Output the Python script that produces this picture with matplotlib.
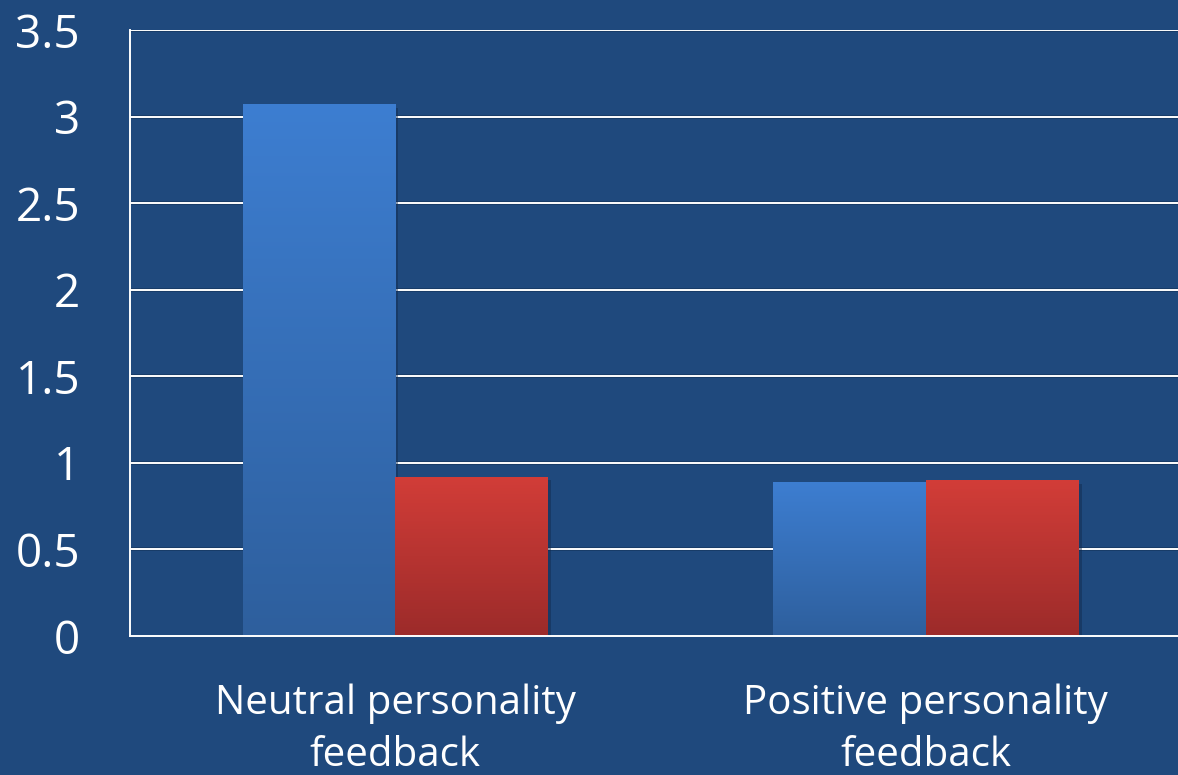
import numpy as np
import matplotlib
matplotlib.use("Agg")
import matplotlib.pyplot as plt
from matplotlib.colors import LinearSegmentedColormap

categories = ["Neutral personality\nfeedback", "Positive personality\nfeedback"]
series_blue = [3.07, 0.89]
series_red = [0.92, 0.90]
yticks = [0, 0.5, 1, 1.5, 2, 2.5, 3, 3.5]
ytick_labels = ["0", "0.5", "1", "1.5", "2", "2.5", "3", "3.5"]

BG = "#1F497D"
W, H = 1178, 775
fig = plt.figure(figsize=(W / 100, H / 100), dpi=100, facecolor=BG)
# axes spans x 130..1191 px (right edge cropped), y 30..636 px
ax = fig.add_axes([130 / W, 1 - 636 / H, (1191 - 130) / W, (636 - 30) / H])
ax.set_facecolor(BG)
ax.set_xlim(-0.5, 1.5)
ax.set_ylim(0, 3.5)

x = np.arange(len(categories))
bw = 0.2877

for yv in yticks[1:]:
    ax.axhline(yv, color="#0F2A4A", lw=2.6, alpha=0.5, zorder=1)
    ax.axhline(yv, color="white", lw=1.4, zorder=1.1)

blue_cmap = LinearSegmentedColormap.from_list("b", ["#2E5F9D", "#3D7ED1"])
red_cmap = LinearSegmentedColormap.from_list("r", ["#9C2B2A", "#D23D38"])

def grad_bars(xs, vals, cmap):
    bars = ax.bar(xs, vals, width=bw, color="none", edgecolor="none", zorder=3)
    for b in bars:
        x0, y0 = b.get_x(), b.get_y()
        w, h = b.get_width(), b.get_height()
        sh = plt.Rectangle((x0 + 0.006, y0 - 0.02), w, h, color="#10284A", alpha=0.45, zorder=2, lw=0)
        ax.add_patch(sh)
        grad = np.linspace(0, 1, 256).reshape(-1, 1)
        im = ax.imshow(grad, cmap=cmap, aspect="auto", origin="lower",
                       extent=[x0, x0 + w, y0, y0 + h], zorder=3, interpolation="bicubic")
        im.set_clip_path(b)
    return bars

grad_bars(x - bw / 2, series_blue, blue_cmap)
grad_bars(x + bw / 2, series_red, red_cmap)
ax.set_xlim(-0.5, 1.5)
ax.set_ylim(0, 3.5)

for s in ["top", "right"]:
    ax.spines[s].set_visible(False)
for s in ["left", "bottom"]:
    ax.spines[s].set_color("white")
    ax.spines[s].set_linewidth(1.4)
    ax.spines[s].set_zorder(4)

font = "Open Sans"
ax.set_yticks(yticks)
ax.set_yticklabels(ytick_labels, fontfamily=font, fontsize=33, color="white")
ax.tick_params(axis="y", length=0, pad=36)
ax.set_xticks(x)
ax.set_xticklabels(categories, fontfamily=font, fontsize=29, color="white", linespacing=1.4)
ax.tick_params(axis="x", length=0, pad=34)

fig.savefig("out.png", dpi=100, facecolor=BG)
